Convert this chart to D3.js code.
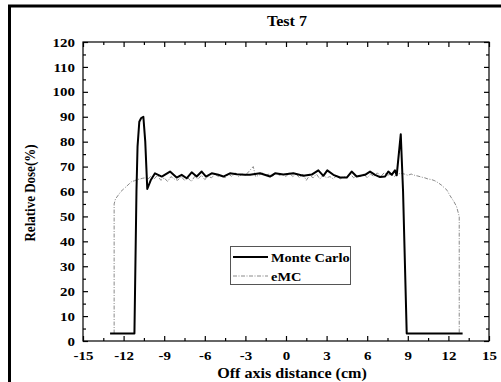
<!DOCTYPE html>
<html><head><meta charset="utf-8">
<script src="https://cdn.jsdelivr.net/npm/d3@7"></script>
<style>body{margin:0;background:#fff}svg{display:block}text{font-family:"Liberation Serif","Times New Roman",serif;font-weight:bold}</style>
</head><body>
<script>
const title = "Test 7";
const xLabel = "Off axis distance (cm)";
const yLabel = "Relative Dose(%)";
const xTicks = [-15,-12,-9,-6,-3,0,3,6,9,12,15];
const yTicks = [0,10,20,30,40,50,60,70,80,90,100,110,120];
const xMinorTicks = [-13.5,-10.5,-7.5,-4.5,-1.5,1.5,4.5,7.5,10.5,13.5];
const yMinorTicks = [5,15,25,35,45,55,65,75,85,95,105,115];
const seriesNames = ["Monte Carlo","eMC"];

const mcX = [-13,-11.2,-11.05,-10.97,-10.84,-10.7,-10.54,-10.4,-10.25,-10.0,-9.68,-9.18,-8.57,-8.08,-7.71,-7.34,-6.97,-6.60,-6.23,-5.91,-5.49,-5.0,-4.63,-4.14,-3.64,-3.03,-2.66,-1.92,-1.18,-0.81,-0.20,0.54,1.28,1.9,2.39,2.76,3.05,3.5,3.99,4.49,4.85,5.22,5.84,6.21,6.58,6.95,7.32,7.56,7.81,8.05,8.18,8.48,8.65,8.92,13.05];
const mcY = [3,3,60,78,88,89.5,90,80,61,64.5,67.3,66,68,65.6,66.7,65.3,67.7,66,68,66,67.3,66.7,66,67.3,66.9,66.7,66.7,67.3,66,67.3,66.8,67.3,66.3,66.8,68.5,66.3,68.5,66.7,65.6,65.6,68,66,66.7,68,66.7,65.8,66,68,66.7,68.5,66.5,83,60,3,3];

const emcX = [-12.7,-12.7,-12.6,-12.4,-12.2,-12.0,-11.8,-11.6,-11.4,-11.2,-11.0,-10.8,-10.6,-10.4,-10.2,-10.0,-9.75,-9.5,-9.25,-9.0,-8.75,-8.5,-8.25,-8.0,-7.75,-7.5,-7.25,-7.0,-6.75,-6.5,-6.25,-6.0,-5.75,-5.5,-5.25,-5.0,-4.75,-4.5,-4.25,-4.0,-3.75,-3.5,-3.25,-3.0,-2.75,-2.42,-2.25,-2.0,-1.75,-1.5,-1.25,-1.0,-0.75,-0.5,-0.25,0,0.25,0.5,0.75,1.0,1.25,1.5,1.75,2.0,2.25,2.5,2.75,3.0,3.25,3.5,3.75,4.0,4.25,4.5,4.75,5.0,5.25,5.5,5.75,6.0,6.25,6.5,6.75,7.0,7.25,7.5,7.75,8.0,8.25,8.5,8.75,9.0,9.25,9.5,9.75,10.0,10.25,10.5,10.75,11.0,11.25,11.5,11.9,12.1,12.4,12.6,12.75,12.8,12.8];
const emcY = [3,55,57,58.5,60,61,62,63,64,64.3,64.8,65,65.3,65.5,65,66,65,66.5,64.5,65.5,64,66,65,64.5,66,64.5,65.5,64,66,65,66.5,64.8,66,65.5,67,66,66.5,65.5,67,66,67.5,66,67,66.5,68,70,66,66.5,67.5,66.5,67,66,67.5,66.5,67,66,67.5,66,67,65.5,67,64.5,66.5,65.5,67,65,66.5,65.5,66,65,66.5,65,66,65.5,67,65.5,66.5,66,67,65.5,67,66,67.5,66,67.5,66.5,67,66,67,67.3,67,66.5,67,66.5,66.2,65.8,65.5,65,64.8,64.3,63.5,62.5,60.5,58.5,56,54,51,50,3];

const W = 501, H = 382;
const SX = 1.15; // horizontal stretch of the original typesetting
const m = {l:83, r:489, t:42, b:341};
const svg = d3.select("body").append("svg").attr("width",W).attr("height",H);

svg.append("line").attr("x1",8).attr("x2",W).attr("y1",6).attr("y2",6).attr("stroke","#000").attr("stroke-width",3);
svg.append("line").attr("x1",9.5).attr("x2",9.5).attr("y1",5).attr("y2",H).attr("stroke","#000").attr("stroke-width",3);

const x = d3.scaleLinear().domain([-15,15]).range([m.l,m.r]);
const y = d3.scaleLinear().domain([0,120]).range([m.b,m.t]);

const g = svg.append("g");

function axisSet(axisFn, scale, ticks, size, transform, showLabels){
  const a = axisFn(scale).tickValues(ticks).tickSizeInner(size).tickSizeOuter(0).tickFormat(d=>String(d));
  const gg = g.append("g").attr("transform",transform).call(a);
  gg.select(".domain").remove();
  gg.selectAll("line").attr("stroke","#000").attr("stroke-width",1.2);
  if(!showLabels) gg.selectAll("text").remove();
  gg.selectAll("text").attr("font-size",13).attr("fill","#000").style("font-family","'Liberation Serif',serif").style("font-weight","bold");
  return gg;
}
const bx = axisSet(d3.axisBottom, x, xTicks, -5, `translate(0,${m.b})`, true);
bx.selectAll("text").attr("y",10).attr("dy","0.71em").attr("transform",`scale(${SX},1)`);
axisSet(d3.axisBottom, x, xMinorTicks, -3, `translate(0,${m.b})`, false);
axisSet(d3.axisTop, x, xTicks, -5, `translate(0,${m.t})`, false);
axisSet(d3.axisTop, x, xMinorTicks, -3, `translate(0,${m.t})`, false);
const ly = axisSet(d3.axisLeft, y, yTicks, -5, `translate(${m.l},0)`, true);
ly.selectAll("text").attr("x",-8/SX).attr("transform",`scale(${SX},1)`);
axisSet(d3.axisLeft, y, yMinorTicks, -3, `translate(${m.l},0)`, false);
axisSet(d3.axisRight, y, yTicks, -5, `translate(${m.r},0)`, false);
axisSet(d3.axisRight, y, yMinorTicks, -3, `translate(${m.r},0)`, false);

g.append("rect").attr("x",m.l).attr("y",m.t).attr("width",m.r-m.l).attr("height",m.b-m.t)
  .attr("fill","none").attr("stroke","#000").attr("stroke-width",1.2);

const line = d3.line().x(d=>x(d[0])).y(d=>y(d[1]));
const emc = emcX.map((v,i)=>[v,emcY[i]]);
const mc = mcX.map((v,i)=>[v,mcY[i]]);
g.append("path").attr("d",line(emc)).attr("fill","none").attr("stroke","#8a8a8a").attr("stroke-width",1).attr("stroke-dasharray","4,1.5,1,1.5");
g.append("path").attr("d",line(mc)).attr("fill","none").attr("stroke","#000").attr("stroke-width",2).attr("stroke-linejoin","round");

const lg = svg.append("g");
lg.append("rect").attr("x",230.5).attr("y",246.5).attr("width",120).attr("height",38).attr("fill","#fff").attr("stroke","#555").attr("stroke-width",1);
lg.append("line").attr("x1",233).attr("x2",268).attr("y1",257).attr("y2",257).attr("stroke","#000").attr("stroke-width",2);
lg.append("line").attr("x1",233).attr("x2",268).attr("y1",276).attr("y2",276).attr("stroke","#8a8a8a").attr("stroke-width",1).attr("stroke-dasharray","4,1.5,1,1.5");
lg.append("text").attr("transform",`translate(271,261.5) scale(${SX},1)`).attr("font-size",12.5).text(seriesNames[0]);
lg.append("text").attr("transform",`translate(271,280.5) scale(${SX},1)`).attr("font-size",12.5).text(seriesNames[1]);

svg.append("text").attr("transform",`translate(287,26) scale(${SX},1)`).attr("text-anchor","middle").attr("font-size",14).text(title);
svg.append("text").attr("transform",`translate(292,378) scale(${SX},1)`).attr("text-anchor","middle").attr("font-size",14).text(xLabel);
svg.append("text").attr("transform",`translate(35,193) rotate(-90) scale(1,${SX})`).attr("text-anchor","middle").attr("font-size",13).text(yLabel);
</script>
</body></html>
